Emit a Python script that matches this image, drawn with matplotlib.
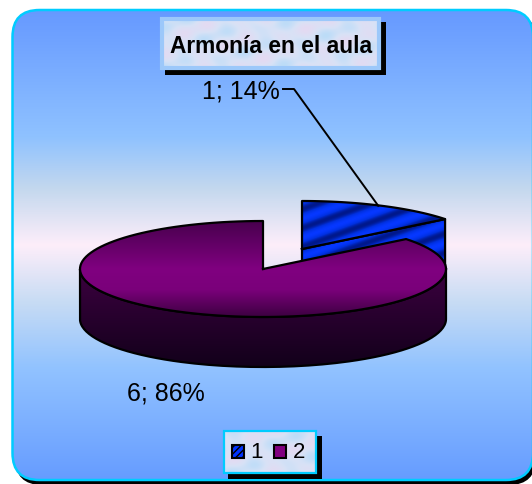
import numpy as np
import matplotlib
matplotlib.use("Agg")
import matplotlib.pyplot as plt
from matplotlib.patches import FancyBboxPatch, Polygon, Rectangle
from matplotlib.colors import LinearSegmentedColormap

plt.rcParams["font.family"] = ["Liberation Sans", "DejaVu Sans"]

# ---------- DATA ----------
TITLE = "Armonía en el aula"
categories = ["1", "2"]
values = [1, 6]
percents = ["14%", "86%"]

W, H = 532, 485

# ---------- PIE GEOMETRY (pixels) ----------
CX, CY = 263, 270
RX, RY = 183, 48
DEPTH = 50
EXPLODE = (39, -20)

BG_STOPS = [(0.0, "#6699ff"), (0.27, "#8fc2ff"), (0.38, "#c4d8ee"), (0.5, "#fdeefa"),
            (0.62, "#c8dcf4"), (0.76, "#92c3ff"), (1.0, "#669cff")]
PURPLE_TOP = [(0.0, "#48004e"), (0.5, "#800080"), (0.72, "#7a007a"), (1.0, "#3c0040")]
PURPLE_SIDE = [(0.0, "#3c0040"), (1.0, "#12001a")]


def rim(a0, a1, cx, cy, n=120):
    # angles clockwise from 12 o'clock
    t = np.radians(np.linspace(a0, a1, n))
    return np.column_stack([cx + RX*np.sin(t), cy - RY*np.cos(t)])


def grad_fill(ax, poly, stops, y0, y1, z):
    cm = LinearSegmentedColormap.from_list("g", stops)
    g = np.linspace(0, 1, 256).reshape(-1, 1)
    im = ax.imshow(g, cmap=cm, extent=(0, W, y1, y0), aspect="auto", zorder=z, vmin=0, vmax=1)
    p = Polygon(poly, closed=True, transform=ax.transData, fc="none", ec="none")
    ax.add_patch(p)
    im.set_clip_path(p)


def stripe_fill(ax, poly, z):
    cm = LinearSegmentedColormap.from_list("b", ["#00188c", "#0030e0", "#0638ff"])
    xx, yy = np.meshgrid(np.arange(W), np.arange(H))
    s = 0.5 + 0.5*np.sin((yy + 0.36*xx)*2*np.pi/19.0)
    im = ax.imshow(s, cmap=cm, extent=(0, W, H, 0), aspect="auto", zorder=z, vmin=0, vmax=1)
    p = Polygon(poly, closed=True, transform=ax.transData, fc="none", ec="none")
    ax.add_patch(p)
    im.set_clip_path(p)


def outline(ax, pts, z, lw=1.6, closed=True):
    if closed:
        pts = np.vstack([pts, pts[:1]])
    ax.plot(pts[:, 0], pts[:, 1], color="black", lw=lw, zorder=z, solid_joinstyle="round")


def mottled(ax, x0, y0, x1, y1, z):
    # soft blue/pink texture of the title and legend boxes
    cm = LinearSegmentedColormap.from_list("m", ["#bcdcf8", "#d8e2f6", "#e4daf2"])
    xx, yy = np.meshgrid(np.linspace(x0, x1, 220), np.linspace(y0, y1, 60))
    s = (0.5 + 0.2*np.sin(xx/9.0 + yy/6.0) + 0.15*np.sin(xx/5.0 - yy/7.0 + 1.3)
         + 0.15*np.sin(xx/17.0 + yy/3.5 + 0.4))
    ax.imshow(s, cmap=cm, extent=(x0, x1, y1, y0), aspect="auto", zorder=z, vmin=0, vmax=1)


fig = plt.figure(figsize=(W/100, H/100), dpi=100)
ax = fig.add_axes([0, 0, 1, 1])
ax.set_xlim(0, W)
ax.set_ylim(H, 0)
ax.axis("off")

# ---------- CHART AREA ----------
box = dict(boxstyle="round,pad=0,rounding_size=27")
ax.add_patch(FancyBboxPatch((15, 14), 521, 472, fc="black", ec="none", zorder=1, **box))
area = FancyBboxPatch((12.5, 11), 520.5, 470, fc="none", ec="#00ccff", lw=1.8, zorder=3, **box)
ax.add_patch(area)
cm = LinearSegmentedColormap.from_list("bg", BG_STOPS)
bg = ax.imshow(np.linspace(0, 1, 256).reshape(-1, 1), cmap=cm, extent=(0, W, 481, 11),
               aspect="auto", zorder=2, vmin=0, vmax=1)
bg.set_clip_path(FancyBboxPatch((12.5, 11), 520.5, 470, transform=ax.transData, **box))

# ---------- PIE ----------
total = sum(values)
sweep = 360.0*values[0]/total

# slice 1, pulled out
ex, ey = CX + EXPLODE[0], CY + EXPLODE[1]
top1 = rim(0, sweep, ex, ey)
apex1 = np.array([[ex, ey]])
cut = np.array([[ex, ey], top1[-1], top1[-1] + [0, DEPTH], [ex, ey + DEPTH]])
stripe_fill(ax, cut, 4)
outline(ax, cut, 5)
poly1 = np.vstack([apex1, top1])
stripe_fill(ax, poly1, 6)
outline(ax, poly1, 7)

# slice 2
front = rim(90, 270, CX, CY)
side = np.vstack([front, front[::-1] + [0, DEPTH]])
grad_fill(ax, side, PURPLE_SIDE, CY, CY + RY + DEPTH, 8)
outline(ax, side, 9)
top2 = rim(sweep, 360, CX, CY)
poly2 = np.vstack([[[CX, CY]], top2])
grad_fill(ax, poly2, PURPLE_TOP, CY - RY, CY + RY, 10)
outline(ax, poly2, 11)

# ---------- LABELS ----------
mid = np.radians(sweep/2)
lx, ly = ex + RX*np.sin(mid)*0.96, ey - RY*np.cos(mid)
ax.plot([283, 294, lx], [90, 90, ly], color="black", lw=1.4, zorder=12)
ax.text(240.5, 92, f"{values[0]}; {percents[0]}", fontsize=18, ha="center", va="center", zorder=12)
ax.text(166, 394, f"{values[1]}; {percents[1]}", fontsize=18, ha="center", va="center", zorder=12)

# ---------- TITLE ----------
ax.add_patch(Rectangle((165, 23), 221, 53, fc="black", ec="none", zorder=12))
mottled(ax, 160, 18, 381, 71, 13)
ax.add_patch(Rectangle((162, 20), 217, 49, fc="none", ec="#9cc8fa", lw=3, zorder=14))
ax.text(271.5, 46.5, TITLE, fontsize=16.4, fontweight="bold", ha="center", va="center", zorder=15)

# ---------- LEGEND ----------
ax.add_patch(Rectangle((228, 437), 94, 42.5, fc="black", ec="none", zorder=12))
mottled(ax, 224, 432, 316, 474, 13)
ax.add_patch(Rectangle((224, 432), 92, 41.5, fc="none", ec="#00ccff", lw=1.6, zorder=14))
ax.add_patch(Rectangle((231.5, 445.5), 12, 13, fc="#0033ff", ec="black", lw=1.5, hatch="/////", zorder=15))
ax.add_patch(Rectangle((273.5, 445.5), 12, 13, fc="#800080", ec="black", lw=1.5, zorder=15))
ax.text(257, 453, categories[0], fontsize=16, ha="center", va="center", zorder=15)
ax.text(299, 453, categories[1], fontsize=16, ha="center", va="center", zorder=15)

ax.set_xlim(0, W)
ax.set_ylim(H, 0)
fig.savefig("out.png", dpi=100)
plt.close(fig)
